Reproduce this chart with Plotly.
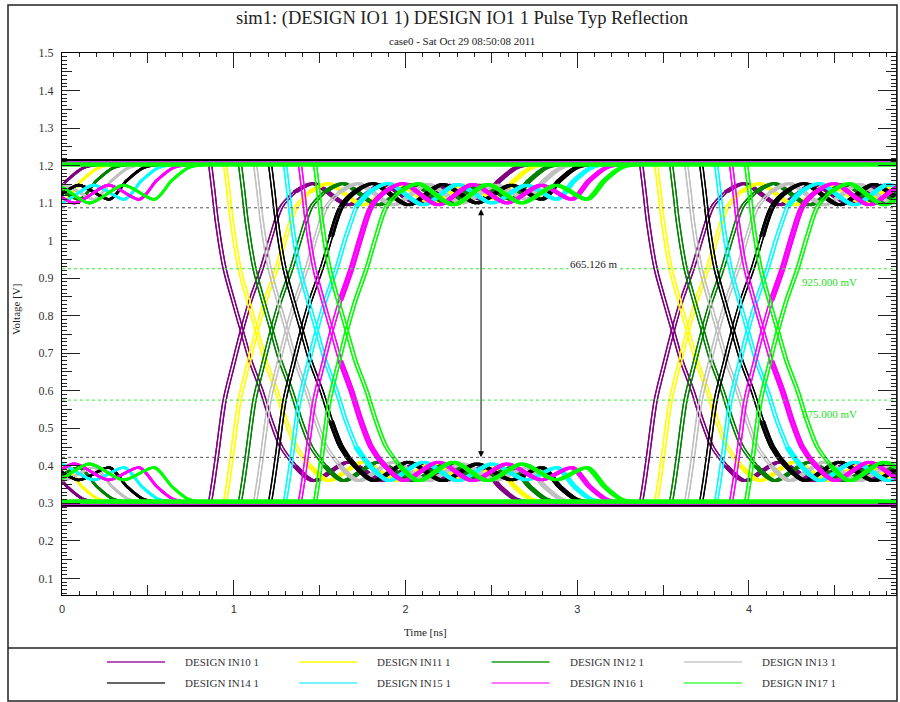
import itertools
import plotly.graph_objects as go

# ---------------- data ----------------
SERIES = ["DESIGN IN10 1", "DESIGN IN11 1", "DESIGN IN12 1", "DESIGN IN13 1",
          "DESIGN IN14 1", "DESIGN IN15 1", "DESIGN IN16 1", "DESIGN IN17 1"]
COLORS = ["#800080", "#ffff00", "#008000", "#c0c0c0",
          "#000000", "#00ffff", "#ff00ff", "#00ff00"]
LEGEND_COLORS = ["#a0189f", "#ffff00", "#1a9a1a", "#c8c8c8",
                 "#333333", "#44eeff", "#ff44ff", "#44ff44"]

# first-eye crossing time of each series (ns) and unit interval
CROSS_T = [1.038, 1.125, 1.212, 1.300, 1.387, 1.474, 1.561, 1.649]
UI = 2.51

# edge + reflection ringing shape, time relative to the crossing (ns)
EDGE_DT = [-0.185, -0.165, -0.145, -0.10, -0.05, 0.0, 0.05, 0.115, 0.17, 0.23,
           0.31, 0.42, 0.62, 0.82, 1.02, 1.22, 1.40, 1.50, 1.60, 1.75]
RISE_V = [0.302, 0.36, 0.425, 0.575, 0.67, 0.76, 0.84, 0.925, 1.01, 1.09,
          1.13, 1.152, 1.095, 1.15, 1.10, 1.148, 1.11, 1.16, 1.195, 1.205]
FALL_V = [1.205, 1.13, 1.05, 0.925, 0.84, 0.76, 0.68, 0.60, 0.52, 0.45,
          0.40, 0.36, 0.41, 0.36, 0.405, 0.362, 0.395, 0.345, 0.31, 0.302]
# index in EDGE_DT where each series' thick (bundled) settling part begins
RING_START = [10, 10, 10, 10, 8, 9, 6, 10]
STEADY_HI = 1.205
STEADY_LO = 0.302
HI_LEVEL = [1.214, 1.212, 1.213, 1.210, 1.215, 1.208, 1.209, 1.203]
LO_LEVEL = [0.293, 0.296, 0.298, 0.297, 0.295, 0.300, 0.299, 0.305]

EYE_LEVELS = [1.0875, 0.4224]
THRESHOLDS = [0.925, 0.575]
THRESH_LABELS = ["925.000 mV", "575.000 mV"]
EYE_LABEL = "665.126 m"
MEASURE_T = 2.44

X_RANGE = [0, 4.856]
Y_RANGE = [0.0556, 1.5]
Y_TICKS = [round(0.1 * i, 1) for i in range(1, 16)]
X_TICKS = [0, 1, 2, 3, 4]

# ---------------- layout geometry (pixels) ----------------
W, H = 900, 702
ML, MR, MT, MB = 62, 4, 53, 107
PW, PH = W - ML - MR, H - MT - MB


def px(xp):
    return (xp - ML) / PW


def py(yp):
    return (H - MB - yp) / PH


def waveform(tc, bits, rs):
    """Returns (thin_x, thin_y, thick_x, thick_y) with None separators."""
    edges = [tc - UI, tc, tc + UI]
    tx, ty, kx, ky = [], [], [], []
    for k in range(3):
        e = edges[k]
        seg_start = e + EDGE_DT[0]
        seg_end = edges[k + 1] + EDGE_DT[0] if k < 2 else 5.3
        prev, cur = bits[k], bits[k + 1]
        lvl = STEADY_HI if cur else STEADY_LO
        if prev != cur:
            shift = 0.018 if (k >= 1 and bits[k - 1] != bits[k]) else 0.0
            tmpl = RISE_V if cur else FALL_V
            xs = [e + shift + dt for dt in EDGE_DT]
            tx += xs[:rs + 1] + [None]
            ty += tmpl[:rs + 1] + [None]
            kx += xs[rs:] + [None]
            ky += tmpl[rs:] + [None]
            tx += [xs[-1], seg_end, None]
            ty += [lvl, lvl, None]
        else:
            tx += [seg_start, seg_end, None]
            ty += [lvl, lvl, None]
    return tx, ty, kx, ky


fig = go.Figure()

for i, name in enumerate(SERIES):
    col = COLORS[i]
    thin_x, thin_y, thick_x, thick_y = [], [], [], []
    for bits in itertools.product([0, 1], repeat=4):
        a, b, c, d = waveform(CROSS_T[i], bits, RING_START[i])
        thin_x += a
        thin_y += b
        thick_x += c
        thick_y += d
    for lvl in (HI_LEVEL[i], LO_LEVEL[i]):
        fig.add_trace(go.Scatter(x=[-0.3, 5.3], y=[lvl, lvl], mode="lines",
                                 line=dict(color=col, width=2 if i < 7 else 4.5),
                                 showlegend=False, hoverinfo="skip"))
    fig.add_trace(go.Scatter(x=thick_x, y=thick_y, mode="lines", connectgaps=False,
                             line=dict(color=col, width=2.6, shape="spline", smoothing=0.8),
                             showlegend=False, hoverinfo="skip"))
    fig.add_trace(go.Scatter(x=thin_x, y=thin_y, mode="lines", connectgaps=False,
                             line=dict(color=col, width=1.3, shape="spline", smoothing=0.8),
                             showlegend=False, hoverinfo="skip"))

# reference lines on overlay axes (drawn above the waveforms)
for lvl in EYE_LEVELS:
    fig.add_trace(go.Scatter(x=X_RANGE, y=[lvl, lvl], mode="lines", xaxis="x2", yaxis="y2",
                             line=dict(color="#555555", width=1, dash="dot"),
                             showlegend=False, hoverinfo="skip"))
for lvl in THRESHOLDS:
    fig.add_trace(go.Scatter(x=X_RANGE, y=[lvl, lvl], mode="lines", xaxis="x2", yaxis="y2",
                             line=dict(color="#33ee33", width=1, dash="dot"),
                             showlegend=False, hoverinfo="skip"))

axis_common = dict(showgrid=False, zeroline=False, showline=True, linecolor="#000000",
                   linewidth=1.2, ticks="inside", tickcolor="#222222", mirror="ticks")

fig.update_layout(
    width=W, height=H, margin=dict(l=ML, r=MR, t=MT, b=MB),
    paper_bgcolor="white", plot_bgcolor="white", showlegend=False,
    xaxis=dict(range=X_RANGE, tickvals=X_TICKS, ticklen=15, tickwidth=1, ticklabelstandoff=4,
               tickfont=dict(family="Liberation Sans", size=11, color="#333333"),
               minor=dict(dtick=0.1, ticklen=4, ticks="inside", tickcolor="#222222"),
               **axis_common),
    yaxis=dict(range=Y_RANGE, tickvals=Y_TICKS, ticklen=18, tickwidth=1.3, ticklabelstandoff=5,
               tickfont=dict(family="Liberation Serif", size=12, color="#333333"),
               minor=dict(dtick=0.01, ticklen=5, ticks="inside", tickcolor="#222222"),
               **axis_common),
    xaxis2=dict(range=X_RANGE, overlaying="x", anchor="y2", side="bottom", dtick=0.5, tick0=0,
                ticklen=10, showticklabels=False, **axis_common),
    yaxis2=dict(range=Y_RANGE, overlaying="y", anchor="x2", side="left", dtick=0.05, tick0=0,
                ticklen=10, showticklabels=False, **axis_common),
)

ann = []
ann.append(dict(text="sim1: (DESIGN IO1 1) DESIGN IO1 1 Pulse Typ Reflection", xref="paper", yref="paper",
                x=px(462), y=py(18), showarrow=False, xanchor="center", yanchor="middle",
                font=dict(family="Liberation Serif", size=18.5, color="#222222")))
ann.append(dict(text="case0 - Sat Oct 29 08:50:08 2011", xref="paper", yref="paper",
                x=px(462), y=py(41), showarrow=False, xanchor="center", yanchor="middle",
                font=dict(family="Liberation Serif", size=11, color="#222222")))
ann.append(dict(text="Voltage [V]", xref="paper", yref="paper", x=px(16), y=py(310), textangle=-90,
                showarrow=False, xanchor="center", yanchor="middle",
                font=dict(family="Liberation Serif", size=11, color="#222222")))
ann.append(dict(text="Time [ns]", xref="paper", yref="paper", x=px(425), y=py(632),
                showarrow=False, xanchor="center", yanchor="middle",
                font=dict(family="Liberation Serif", size=11, color="#222222")))
# eye-opening measurement arrow
ann.append(dict(x=MEASURE_T, y=EYE_LEVELS[1], ax=MEASURE_T, ay=EYE_LEVELS[0], xref="x", yref="y",
                axref="x", ayref="y", text="", showarrow=True, arrowhead=2, startarrowhead=2,
                arrowside="end+start", arrowsize=1.2, startarrowsize=1.2, arrowwidth=1, arrowcolor="#000000"))
ann.append(dict(text=EYE_LABEL, x=3.10, y=0.937, xref="x", yref="y", showarrow=False,
                bgcolor="white", font=dict(family="Liberation Serif", size=11, color="#222222")))
for lvl, lab in zip(THRESHOLDS, THRESH_LABELS):
    ann.append(dict(text=lab, x=4.47, y=lvl - 0.036, xref="x", yref="y", showarrow=False,
                    font=dict(family="Liberation Serif", size=11, color="#22dd22")))

shapes = []
# outer frame and legend box
shapes.append(dict(type="rect", xref="paper", yref="paper", x0=px(8), x1=px(897), y0=py(701), y1=py(5),
                   line=dict(color="#222222", width=1.5)))
shapes.append(dict(type="line", xref="paper", yref="paper", x0=px(8), x1=px(897), y0=py(648), y1=py(648),
                   line=dict(color="#222222", width=1.5)))
# legend entries
for i, name in enumerate(SERIES):
    col_i, row_i = i % 4, i // 4
    x0 = 107 + 192.3 * col_i
    yy = 662 + 21 * row_i
    shapes.append(dict(type="line", xref="paper", yref="paper", x0=px(x0), x1=px(x0 + 58),
                       y0=py(yy), y1=py(yy), line=dict(color=LEGEND_COLORS[i], width=1.5)))
    ann.append(dict(text=name, xref="paper", yref="paper", x=px(x0 + 76), y=py(yy), showarrow=False,
                    xanchor="left", yanchor="middle",
                    font=dict(family="Liberation Serif", size=11, color="#333333")))

fig.update_layout(annotations=ann, shapes=shapes)
fig.write_html("out.html", config={"displayModeBar": False},
               post_script="document.body.style.margin='0px';document.body.style.overflow='hidden';")
